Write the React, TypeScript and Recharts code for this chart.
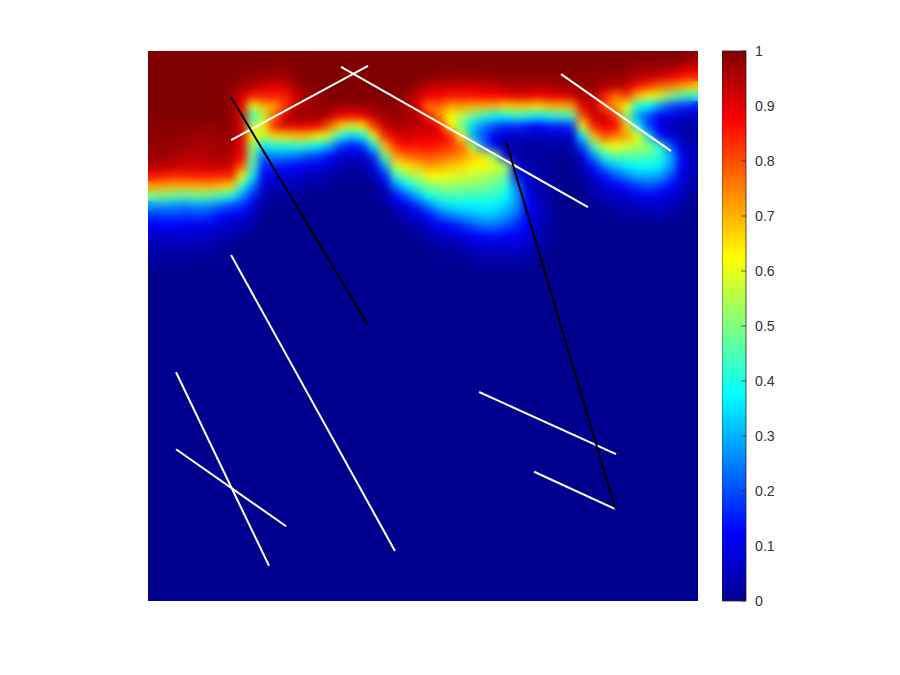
import { Bar, BarChart, Cell, Scatter, ScatterChart, XAxis, YAxis } from "recharts";

// field values in percent, one array per column, top row first (missing rows are 0)
const x154 = [100,100,100,100,100,100,100,99,99,98,97,95,86,72,50,27,17,11,7,4,2,1];
const x165 = [100,100,100,100,100,100,100,99,99,98,97,94,85,71,49,27,18,12,7,4,2,1];
const x176 = [100,100,100,100,100,100,100,99,99,97,96,93,84,70,47,26,18,12,7,4,2,1];
const x187 = [100,100,100,100,100,100,100,99,98,97,95,92,84,70,46,25,17,11,7,4,2,1];
const x198 = [100,100,100,100,100,100,100,99,97,96,94,92,85,70,48,27,18,11,7,4,2];
const x209 = [100,100,100,100,100,100,100,98,97,96,95,93,85,71,47,26,17,10,6,3,1];
const x220 = [100,100,100,100,100,100,100,99,98,97,96,93,84,69,44,23,13,8,5,2,1];
const x231 = [100,100,100,99,98,98,99,98,97,96,95,92,85,66,40,19,10,6,3,1];
const x242 = [100,100,99,97,92,90,90,92,92,90,88,80,62,42,28,16,9,5,2];
const x253 = [100,100,98,95,85,60,42,55,62,52,48,46,36,25,16,9,5,2];
const x264 = [100,100,98,92,85,70,55,65,55,36,22,16,10,7,4,2];
const x275 = [100,99,97,90,85,72,78,85,66,40,26,15,9,5,2];
const x286 = [100,99,97,92,85,82,93,92,66,40,25,14,8,4,2];
const x297 = [100,100,99,97,92,95,97,90,68,42,24,13,7,4,2];
const x308 = [100,100,100,99,97,96,97,90,68,40,20,10,5,2];
const x319 = [100,100,100,100,98,98,97,88,63,36,18,9,5,2];
const x330 = [100,100,100,100,100,98,94,78,56,30,13,7,3,1];
const x341 = [100,100,100,100,100,97,88,66,40,18,8,4,2];
const x352 = [100,100,100,100,100,97,86,58,33,14,7,3,1];
const x363 = [100,100,100,100,100,98,88,64,37,17,7,3,1];
const x374 = [100,100,100,100,100,98,94,82,60,36,17,8,4,1];
const x385 = [100,100,100,100,100,99,97,92,84,68,48,28,14,7,3,1];
const x396 = [100,100,100,100,99,99,98,96,90,83,72,57,42,25,12,6,2];
const x407 = [100,100,100,100,98,95,97,95,92,87,77,65,50,36,20,10,5,2];
const x418 = [100,100,100,97,93,90,96,94,90,85,79,68,55,43,30,16,8,4,1];
const x429 = [100,100,99,95,88,76,85,93,90,87,80,72,61,50,39,24,13,7,3,1];
const x440 = [100,100,99,93,88,78,72,88,90,85,78,71,62,52,43,32,20,11,6,3,1];
const x451 = [100,100,98,93,85,72,63,62,85,82,76,68,60,52,44,35,24,13,7,3,1];
const x462 = [100,100,98,92,86,72,55,48,62,78,74,66,58,52,44,36,27,16,9,4,2];
const x473 = [100,100,98,92,86,70,48,33,30,55,68,63,56,50,43,36,30,20,11,6,3,1];
const x484 = [100,100,98,93,87,70,42,25,20,25,65,62,55,49,43,37,31,23,13,8,4,2];
const x495 = [100,100,99,93,87,70,38,20,10,10,50,60,52,47,42,36,31,23,14,8,4,2];
const x506 = [100,100,99,95,88,66,38,16,7,5,8,54,48,43,38,33,27,20,12,8,4,2];
const x517 = [100,100,99,96,90,68,42,17,6,3,3,8,15,25,28,27,22,16,11,7,4,2];
const x528 = [100,100,99,96,90,68,40,14,5,2,2,4,6,8,10,12,12,11,9,6,3,1];
const x539 = [100,100,99,95,88,65,36,12,5,2,2,2,3,4,5,6,6,5,4,3,1];
const x550 = [100,100,99,96,90,70,40,15,6,2,1,1,1,2,2,3,3,2,2,1];
const x561 = [100,100,99,97,90,70,42,15,6,2,1];
const x572 = [100,100,99,97,92,72,45,17,7,3,1];
const x583 = [100,100,99,98,96,90,80,62,36,20,9,5,2];
const x594 = [100,100,99,98,95,93,93,85,68,45,26,14,8,4,2];
const x605 = [100,100,98,96,85,80,92,90,80,58,42,26,14,8,5,2];
const x616 = [100,100,98,95,76,72,82,88,75,62,46,32,20,11,6,3,1];
const x627 = [100,99,97,93,82,62,50,68,72,58,46,36,25,14,8,4,2];
const x638 = [100,98,95,86,68,40,28,38,62,54,46,38,30,18,10,5,2];
const x649 = [100,98,94,82,62,37,20,18,35,52,45,38,30,20,11,6,3];
const x660 = [100,97,92,78,58,28,12,10,13,42,42,36,28,18,10,6,3];
const x671 = [100,97,90,76,50,20,8,6,8,20,30,28,20,13,8,4,2];
const x682 = [100,95,87,72,45,17,6,3,3,8,12,12,9,7,5,3,1];
const x693 = [98,93,85,68,42,15,5,3,3,3,4,4,3,2,1];

const columns = [
  x154, x165, x176, x187, x198, x209, x220, x231, x242, x253,
  x264, x275, x286, x297, x308, x319, x330, x341, x352, x363,
  x374, x385, x396, x407, x418, x429, x440, x451, x462, x473,
  x484, x495, x506, x517, x528, x539, x550, x561, x572, x583,
  x594, x605, x616, x627, x638, x649, x660, x671, x682, x693,
];

const rowCount = 22;
const rowIds = Array.from({ length: rowCount }, (_, i) => `r${i}`);

// fractures, as [x0, y0, x1, y1] on the unit square
const whiteFractures = [
  [0.151, 0.838, 0.4, 0.973],
  [0.351, 0.971, 0.8, 0.716],
  [0.751, 0.958, 0.951, 0.818],
  [0.151, 0.629, 0.449, 0.091],
  [0.051, 0.416, 0.22, 0.064],
  [0.051, 0.276, 0.251, 0.136],
  [0.602, 0.38, 0.851, 0.267],
  [0.702, 0.235, 0.85, 0.167],
];
const blackFractures = [
  [0.151, 0.916, 0.4, 0.502],
  [0.651, 0.835, 0.85, 0.167],
];

const colorbarTicks = [0, 0.1, 0.2, 0.3, 0.4, 0.5, 0.6, 0.7, 0.8, 0.9, 1];
const jetStops = [0, 0.125, 0.375, 0.625, 0.875, 1];
const jetColors = [
  [0, 0, 143],
  [0, 0, 255],
  [0, 255, 255],
  [255, 255, 0],
  [255, 0, 0],
  [128, 0, 0],
];

function jet(v: number) {
  let i = 0;
  while (i < jetStops.length - 2 && v > jetStops[i + 1]) i++;
  const t = (v - jetStops[i]) / (jetStops[i + 1] - jetStops[i]);
  const c = jetColors[i].map((a, k) => Math.round(a + (jetColors[i + 1][k] - a) * t));
  return `rgb(${c[0]},${c[1]},${c[2]})`;
}

const cellRows = columns.map((_, c) => {
  const row: Record<string, number> = { col: c, floor: 330 };
  rowIds.forEach((id) => (row[id] = 10));
  return row;
});

function Heat() {
  return (
    <BarChart
      width={550}
      height={550}
      data={cellRows}
      margin={{ top: 0, right: 0, bottom: 0, left: 0 }}
      barCategoryGap={0}
    >
      <XAxis dataKey="col" hide />
      <YAxis type="number" domain={[0, 550]} hide />
      <Bar dataKey="floor" stackId="f" fill={jet(0)} isAnimationActive={false} />
      {[...rowIds].reverse().map((id) => {
        const r = Number(id.slice(1));
        return (
          <Bar key={id} dataKey={id} stackId="f" isAnimationActive={false}>
            {columns.map((col, c) => (
              <Cell key={c} fill={jet((col[r] ?? 0) / 100)} />
            ))}
          </Bar>
        );
      })}
    </BarChart>
  );
}

function Fractures() {
  const series = (list: number[][], color: string) =>
    list.map((s, i) => (
      <Scatter
        key={color + i}
        data={[
          { x: s[0], y: s[1] },
          { x: s[2], y: s[3] },
        ]}
        line={{ stroke: color, strokeWidth: 2 }}
        shape={() => null}
        isAnimationActive={false}
      />
    ));
  return (
    <ScatterChart width={550} height={550} margin={{ top: 0, right: 0, bottom: 0, left: 0 }}>
      <XAxis type="number" dataKey="x" domain={[0, 1]} hide />
      <YAxis type="number" dataKey="y" domain={[0, 1]} hide />
      {series(whiteFractures, "#ffffff")}
      {series(blackFractures, "#000000")}
    </ScatterChart>
  );
}

function BarTick({ x, y, payload }: any) {
  return (
    <g>
      <line x1={x - 5} x2={x} y1={y} y2={y} stroke="#262626" strokeWidth={0.7} />
      <text x={x + 9} y={y + 5} fontSize={14.2} fontFamily="Liberation Sans" fill="#333333">
        {payload.value}
      </text>
    </g>
  );
}

function Colorbar() {
  return (
    <BarChart
      width={80}
      height={570}
      data={[{ name: "c", v: 1 }]}
      margin={{ top: 10, right: 26, bottom: 10, left: 0 }}
      barCategoryGap={0}
    >
      <defs>
        <linearGradient id="jetBar" x1="0" y1="1" x2="0" y2="0">
          {jetStops.map((s, i) => (
            <stop key={s} offset={s} stopColor={`rgb(${jetColors[i].join(",")})`} />
          ))}
        </linearGradient>
      </defs>
      <XAxis dataKey="name" hide />
      <YAxis
        orientation="right"
        type="number"
        width={30}
        domain={[0, 1]}
        ticks={colorbarTicks}
        interval={0}
        tick={BarTick}
        tickLine={false}
        tickSize={0}
        tickMargin={0}
        axisLine={false}
      />
      <Bar dataKey="v" fill="url(#jetBar)" stroke="#262626" strokeWidth={0.8} isAnimationActive={false} />
    </BarChart>
  );
}

export default function App() {
  return (
    <div style={{ position: "absolute", left: 0, top: 0, width: 900, height: 675, background: "#fff" }}>
      <div style={{ position: "absolute", left: 148, top: 51, width: 550, height: 550, overflow: "hidden" }}>
        <div style={{ position: "absolute", left: 0, top: 0 }}>
          <Heat />
        </div>
        <div style={{ position: "absolute", left: 0, top: 0, filter: "blur(4px)" }}>
          <Heat />
        </div>
        <div style={{ position: "absolute", left: 0, top: 0 }}>
          <Fractures />
        </div>
      </div>
      <div style={{ position: "absolute", left: 722, top: 41 }}>
        <Colorbar />
      </div>
    </div>
  );
}
